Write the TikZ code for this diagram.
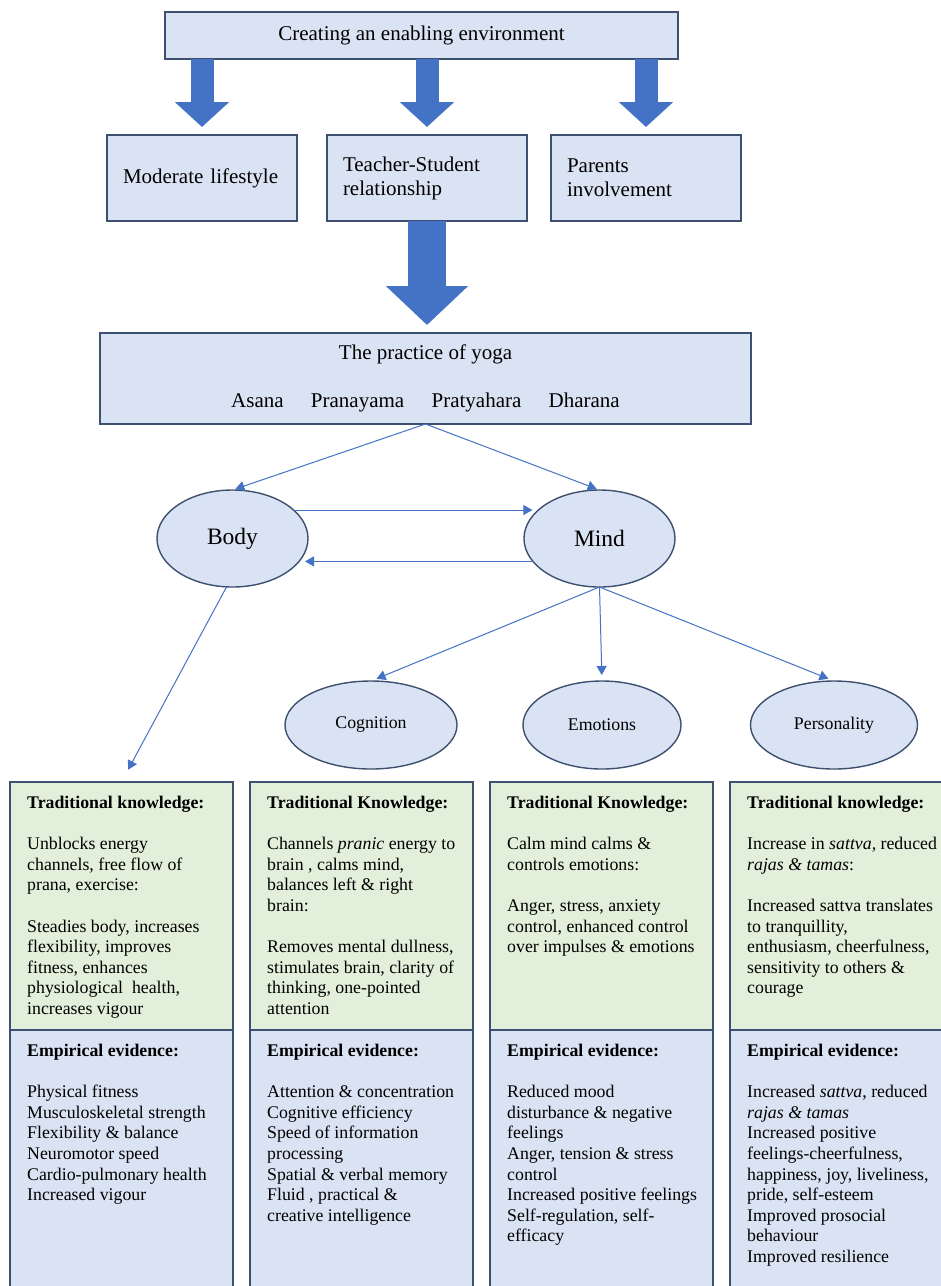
\documentclass[tikz,border=0pt]{standalone}
\usepackage{fontspec}
\setmainfont{Liberation Serif}
\usetikzlibrary{positioning,shapes.geometric,arrows.meta}

\definecolor{boxblue}{RGB}{218,227,243}
\definecolor{boxgreen}{RGB}{226,239,218}
\definecolor{edgeblue}{RGB}{62,80,112}
\definecolor{arrowblue}{RGB}{68,114,196}

\begin{document}
\begin{tikzpicture}[x=1pt,y=-1pt,
    plainbox/.style={rectangle,draw=edgeblue,line width=1.4pt,fill=boxblue,inner sep=0pt,outer sep=0pt},
    toptext/.style={font=\fontsize{21}{24}\selectfont},
    oval/.style={ellipse,draw=edgeblue,line width=1.4pt,fill=boxblue,inner sep=0pt,outer sep=0pt},
    conn/.style={draw=arrowblue,line width=1pt,-{Triangle[length=9pt,width=10pt]}},
    fatarrow/.style={draw=arrowblue,line width=23pt,-{Triangle[length=25pt,width=53pt]}},
    bigarrow/.style={draw=arrowblue,line width=38pt,-{Triangle[length=39pt,width=80pt]}},
    tkbox/.style={plainbox,fill=boxgreen,minimum width=223pt,minimum height=248pt},
    eebox/.style={plainbox,minimum width=223pt,minimum height=280pt},
    boxtext/.style={anchor=north west,align=left,inner sep=0pt,font=\fontsize{17.8}{20.6}\selectfont}]
      \useasboundingbox (0,0) rectangle (941,1286);
      \clip (0,0) rectangle (941,1286);
      \fill[white] (0,0) rectangle (941,1286);

      % enabling environment
      \node[plainbox,toptext,minimum width=513pt,minimum height=47pt] (env) at (421.5,35.5) {Creating an enabling environment};
      \node[plainbox,toptext,minimum width=190pt,minimum height=86pt,text width=158pt,align=left] (life) at (202,178) {Moderate lifestyle};
      \node[plainbox,toptext,minimum width=200pt,minimum height=86pt,text width=168pt,align=left] (teach) at (427,178) {Teacher-Student\\relationship};
      \node[plainbox,toptext,minimum width=190pt,minimum height=86pt,text width=158pt,align=left] (parents) at (646,178) {Parents\\involvement};

      \draw[fatarrow,shorten >=8pt] (env.south -| life.north) -- (life.north);
      \draw[fatarrow,shorten >=8pt] (env.south -| teach.north) -- (teach.north);
      \draw[fatarrow,shorten >=8pt] (env.south -| parents.north) -- (parents.north);

      % practice of yoga
      \node[plainbox,toptext,minimum width=651pt,minimum height=91pt,align=center] (yoga) at (425.5,378.5) {The practice of yoga\\[24pt]Asana\hspace{1.3em}Pranayama\hspace{1.3em}Pratyahara\hspace{1.3em}Dharana};
      \draw[bigarrow,shorten >=8pt] (teach.south) -- (teach.south |- yoga.north);

      % body and mind
      \node[oval,minimum width=151pt,minimum height=97pt,font=\fontsize{23.5}{28}\selectfont] (body) at (232.5,538.5) {Body};
      \node[oval,minimum width=151pt,minimum height=97pt,font=\fontsize{23.5}{28}\selectfont] (mind) at (599.5,538.5) {Mind};
      \draw[conn,shorten >=3pt] (yoga.south) -- (body.north);
      \draw[conn,shorten >=3pt] (yoga.south) -- (mind.north);
      \draw[conn,shorten >=6pt] (body.25) -- (mind.155);
      \draw[conn,shorten >=6pt] (mind.-161) -- (body.-19);

      % aspects of mind
      \node[oval,minimum width=172pt,minimum height=88pt,font=\fontsize{17.8}{20.6}\selectfont] (cog) at (371,725) {Cognition};
      \node[oval,minimum width=158pt,minimum height=88pt,font=\fontsize{17.8}{20.6}\selectfont] (emo) at (602,725) {Emotions};
      \node[oval,minimum width=167pt,minimum height=88pt,font=\fontsize{17.8}{20.6}\selectfont] (pers) at (834,725) {Personality};
      \draw[conn,shorten >=6pt] (mind.south) -- (cog.north);
      \draw[conn,shorten >=6pt] (mind.south) -- (emo.north);
      \draw[conn,shorten >=6pt] (mind.south) -- (pers.north);

      % knowledge and evidence columns
      \node[tkbox,anchor=north west] (tk1) at (10,782) {};
      \node[tkbox,right=17pt of tk1] (tk2) {};
      \node[tkbox,right=17pt of tk2] (tk3) {};
      \node[tkbox,right=17pt of tk3] (tk4) {};
      \node[eebox,below=0pt of tk1] (ee1) {};
      \node[eebox,below=0pt of tk2] (ee2) {};
      \node[eebox,below=0pt of tk3] (ee3) {};
      \node[eebox,below=0pt of tk4] (ee4) {};
      \draw[conn,shorten >=14pt] (body.-97) -- (tk1.north);

      % body column
      \node[boxtext] (tk1txt) at ([xshift=17pt,yshift=-14pt]tk1.north west) {\textbf{Traditional knowledge:}\\[20.6pt]Unblocks energy\\channels, free flow of\\prana, exercise:\\[20.6pt]Steadies body, increases\\flexibility, improves\\fitness, enhances\\physiological\ \ health,\\increases vigour};
      \node[boxtext] (ee1txt) at ([xshift=17pt,yshift=-14pt]ee1.north west) {\textbf{Empirical evidence:}\\[20.6pt]Physical fitness\\Musculoskeletal strength\\Flexibility \& balance\\Neuromotor speed\\Cardio-pulmonary health\\Increased vigour};

      % cognition column
      \node[boxtext] (tk2txt) at ([xshift=17pt,yshift=-14pt]tk2.north west) {\textbf{Traditional Knowledge:}\\[20.6pt]Channels \textit{pranic} energy to\\brain , calms mind,\\balances left \& right\\brain:\\[20.6pt]Removes mental dullness,\\stimulates brain, clarity of\\thinking, one-pointed\\attention};
      \node[boxtext] (ee2txt) at ([xshift=17pt,yshift=-14pt]ee2.north west) {\textbf{Empirical evidence:}\\[20.6pt]Attention \& concentration\\Cognitive efficiency\\Speed of information\\processing\\Spatial \& verbal memory\\Fluid , practical \&\\creative intelligence};

      % emotions column
      \node[boxtext] (tk3txt) at ([xshift=17pt,yshift=-14pt]tk3.north west) {\textbf{Traditional Knowledge:}\\[20.6pt]Calm mind calms \&\\controls emotions:\\[20.6pt]Anger, stress, anxiety\\control, enhanced control\\over impulses \& emotions};
      \node[boxtext] (ee3txt) at ([xshift=17pt,yshift=-14pt]ee3.north west) {\textbf{Empirical evidence:}\\[20.6pt]Reduced mood\\disturbance \& negative\\feelings\\Anger, tension \& stress\\control\\Increased positive feelings\\Self-regulation, self-\\efficacy};

      % personality column
      \node[boxtext] (tk4txt) at ([xshift=17pt,yshift=-14pt]tk4.north west) {\textbf{Traditional knowledge:}\\[20.6pt]Increase in \textit{sattva,} reduced\\\textit{rajas \& tamas}:\\[20.6pt]Increased sattva translates\\to tranquillity,\\enthusiasm, cheerfulness,\\sensitivity to others \&\\courage};
      \node[boxtext] (ee4txt) at ([xshift=17pt,yshift=-14pt]ee4.north west) {\textbf{Empirical evidence:}\\[20.6pt]Increased \textit{sattva}, reduced\\\textit{rajas \& tamas}\\Increased positive\\feelings-cheerfulness,\\happiness, joy, liveliness,\\pride, self-esteem\\Improved prosocial\\behaviour\\Improved resilience};
\end{tikzpicture}
\end{document}
